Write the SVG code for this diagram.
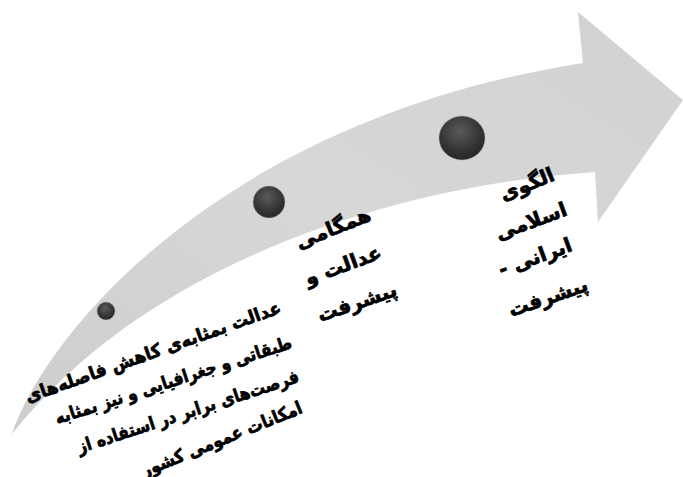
<svg xmlns="http://www.w3.org/2000/svg" width="683" height="477" viewBox="0 0 683 477">
<defs>
<linearGradient id="arrowFill" x1="0" y1="1" x2="1" y2="0">
<stop offset="0" stop-color="#cdcdcd"/>
<stop offset="0.5" stop-color="#d7d7d7"/>
<stop offset="1" stop-color="#d2d2d2"/>
</linearGradient>
<radialGradient id="dotFill" cx="0.45" cy="0.35" r="0.65">
<stop offset="0" stop-color="#5a5a5a"/>
<stop offset="0.7" stop-color="#333333"/>
<stop offset="1" stop-color="#262626"/>
</radialGradient>
</defs>
<style>
.lbl{font-family:"DejaVu Sans",sans-serif;font-weight:bold;fill:#000;stroke:#000;stroke-width:0.7px;stroke-linejoin:round;}
.t1{font-size:18px;}
.t2{font-size:20px;}
.dot{fill:url(#dotFill);stroke:#9a9a9a;stroke-width:1;stroke-opacity:0.5;}
</style>
<rect width="683" height="477" fill="#ffffff"/>
<g id="connectors">
<path d="M12,434 C45,335 220,120 583,63 L578,12 L683,100 L598,222 L595,172 C400,185 150,260 12,434 Z" fill="url(#arrowFill)"/>
</g>
<g id="node1">
<circle class="dot" cx="106" cy="311" r="9"/>
<text class="lbl t1" text-anchor="end" textLength="270" lengthAdjust="spacingAndGlyphs" transform="translate(280,306) rotate(-19.5)" y="7">عدالت بمثابه‌ی کاهش فاصله‌های</text>
<text class="lbl t1" text-anchor="end" textLength="248" lengthAdjust="spacingAndGlyphs" transform="translate(291,341) rotate(-18)" y="7">طبقاتی و جغرافیایی و نیز بمثابه</text>
<text class="lbl t1" text-anchor="end" textLength="232" lengthAdjust="spacingAndGlyphs" transform="translate(298,375) rotate(-18)" y="7">فرصت‌های برابر در استفاده از</text>
<text class="lbl t1" text-anchor="end" textLength="172" lengthAdjust="spacingAndGlyphs" transform="translate(301,406) rotate(-22)" y="7">امکانات عمومی کشور</text>
</g>
<g id="node2">
<circle class="dot" cx="269" cy="202" r="16"/>
<text class="lbl t2" text-anchor="middle" transform="translate(333,228) rotate(-22)" y="7">همگامی</text>
<text class="lbl t2" text-anchor="middle" transform="translate(343,265) rotate(-20)" y="7">عدالت و</text>
<text class="lbl t2" text-anchor="middle" transform="translate(357,302) rotate(-19)" y="7">پیشرفت</text>
</g>
<g id="node3">
<ellipse class="dot" cx="462" cy="138" rx="23" ry="22"/>
<text class="lbl t2" text-anchor="middle" transform="translate(527,184) rotate(-22)" y="7">الگوی</text>
<text class="lbl t2" text-anchor="middle" transform="translate(531,221) rotate(-20)" y="7">اسلامی</text>
<text class="lbl t2" text-anchor="middle" transform="translate(535,257) rotate(-20)" y="7">- ایرانی</text>
<text class="lbl t2" text-anchor="middle" transform="translate(548,297) rotate(-19)" y="7">پیشرفت</text>
</g>
</svg>
